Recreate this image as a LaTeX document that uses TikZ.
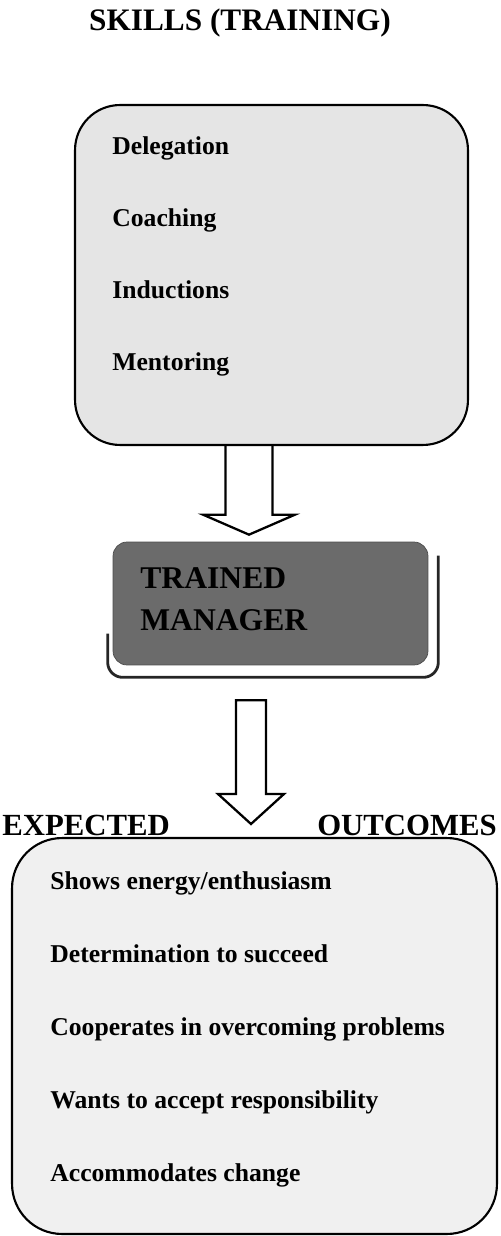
\documentclass[tikz,border=0pt]{standalone}
\usepackage{fontspec}
\setmainfont{Liberation Serif}
\usetikzlibrary{calc}

\begin{document}
\begin{tikzpicture}[x=0.02cm, y=-0.02cm,
    box/.style={draw, line width=1.2pt, rounded corners=0.9cm, inner sep=0pt},
    item/.style={anchor=base west, inner sep=0pt, font=\fontsize{14.6}{17}\selectfont\bfseries},
    heading/.style={inner sep=0pt, font=\fontsize{17.5}{20}\selectfont\bfseries},
    blockarr/.style={draw, line width=1.3pt, line join=miter}]
    \useasboundingbox (0,0) rectangle (500,1236);

    % Boxes
    \node[box, fill=black!10, minimum width=7.86cm, minimum height=6.8cm] (skills) at (271.5,275) {};
    \node[draw=black!70, fill=black!58, rounded corners=0.28cm, minimum width=6.3cm, minimum height=2.46cm, inner sep=0pt] (mgr) at (270.5,603.5) {};
    \node[box, fill=black!6, rounded corners=1cm, minimum width=9.7cm, minimum height=7.92cm] (outcomes) at (254.5,1036) {};
    \draw[line width=1.6pt, black!85, rounded corners=0.3cm] ($(mgr.west)+(-5,30)$) |- ($(mgr.south east)+(10,12)$) -- ($(mgr.north east)+(10,14)$);

    % Headings
    \node[heading, font=\fontsize{17.8}{20}\selectfont\bfseries, anchor=base] (title) at (240,31) {SKILLS (TRAINING)};
    \node[heading, anchor=base west] (expected) at (2,835) {EXPECTED};
    \node[heading, anchor=base east] (outc) at (497,835) {OUTCOMES};
    \node[heading, font=\fontsize{18}{21}\selectfont\bfseries, anchor=base west] (trained) at (140,588) {TRAINED};
    \node[heading, font=\fontsize{18}{21}\selectfont\bfseries, anchor=base west] (manager) at (140,630) {MANAGER};

    % Items
    \foreach \name [count=\i from 0] in {Delegation,Coaching,Inductions,Mentoring}
        \node[item] (skill\i) at (112,{155+72*\i}) {\name};
    \foreach \name [count=\i from 0] in {Shows energy/enthusiasm,Determination to succeed,Cooperates in overcoming problems,Wants to accept responsibility,Accommodates change}
        \node[item] (out\i) at (50,{889+73*\i}) {\name};

    % Arrows
    \coordinate (a1s) at ($(skills.south)+(-22.5,0)$);
    \coordinate (a1t) at ($(mgr.north)+(-21.5,-7)$);
    \draw[blockarr] ($(a1s)+(-23.5,0)$) |- ($(a1t)+(-46,-20)$) -- (a1t) -- ($(a1t)+(46,-20)$) -- ($(a1t)+(23.5,-20)$) -- ($(a1s)+(23.5,0)$);
    \coordinate (a2s) at ($(mgr.south)+(-19.5,35)$);
    \coordinate (a2t) at ($(outcomes.north)+(-3.5,-13)$);
    \draw[blockarr] ($(a2s)+(-15,0)$) -- ($(a2t)+(-15,-30)$) -- ($(a2t)+(-33,-30)$) -- (a2t) -- ($(a2t)+(33,-30)$) -- ($(a2t)+(15,-30)$) -- ($(a2s)+(15,0)$) -- cycle;
\end{tikzpicture}
\end{document}
